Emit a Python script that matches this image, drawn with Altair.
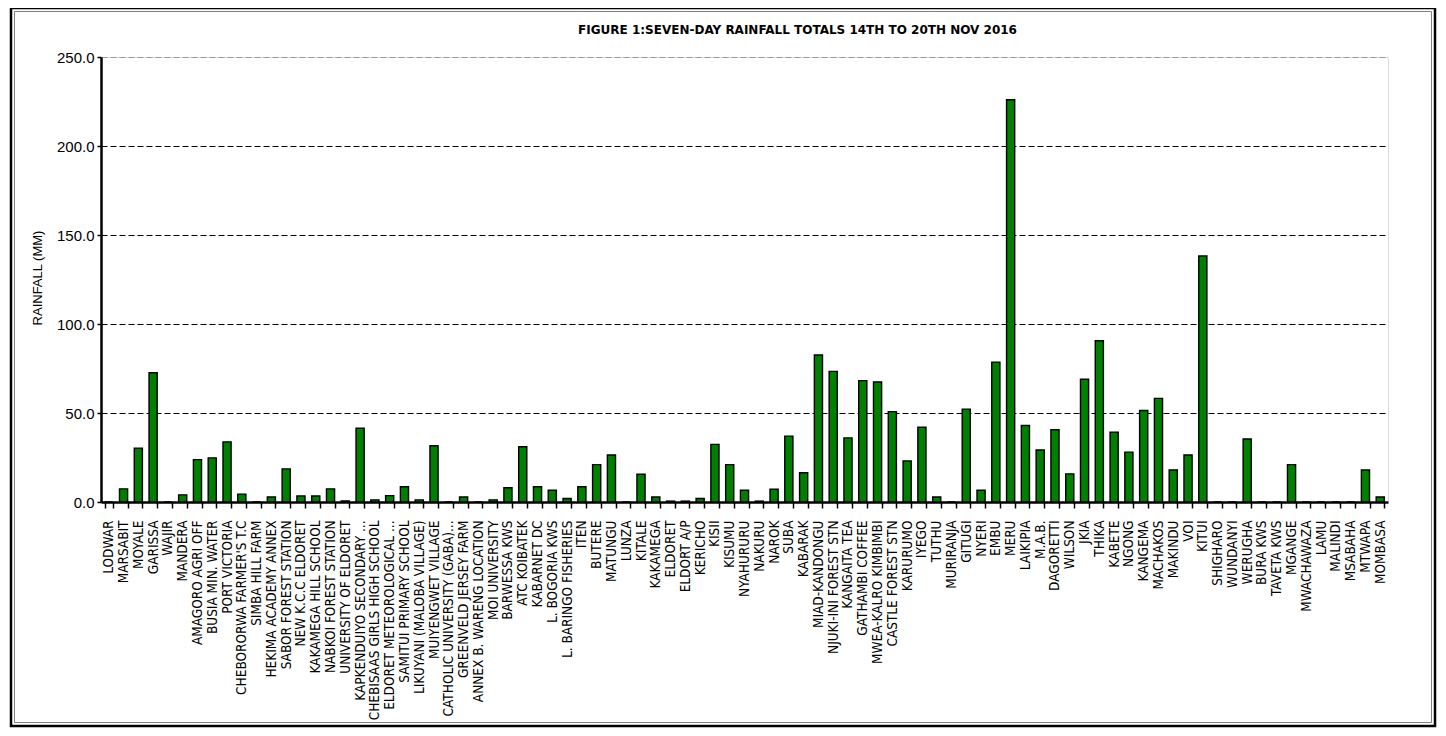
import altair as alt
import pandas as pd

stations = [
    "LODWAR", "MARSABIT", "MOYALE", "GARISSA", "WAJIR", "MANDERA",
    "AMAGORO  AGRI OFF", "BUSIA MIN. WATER", "PORT VICTORIA",
    "CHEBORORWA FARMER'S T.C", "SIMBA HILL FARM", "HEKIMA ACADEMY  ANNEX",
    "SABOR FOREST  STATION", "NEW K.C.C ELDORET", "KAKAMEGA HILL SCHOOL",
    "NABKOI FOREST STATION", "UNIVERSITY OF ELDORET", "KAPKENDUIYO SECONDARY ...",
    "CHEBISAAS GIRLS HIGH SCHOOL", "ELDORET METEOROLOGICAL ...",
    "SAMITUI  PRIMARY SCHOOL", "LIKUYANI (MALOBA VILLAGE)", "MUIYENGWET  VILLAGE",
    "CATHOLIC UNIVERSITY (GABA)...", "GREENVELD JERSEY FARM",
    "ANNEX B. WARENG LOCATION", "MOI UNIVERSITY", "BARWESSA KWS", "ATC KOIBATEK",
    "KABARNET DC", "L. BOGORIA KWS", "L. BARINGO FISHERIES", "ITEN", "BUTERE",
    "MATUNGU", "LUNZA", "KITALE", "KAKAMEGA", "ELDORET", "ELDORT A/P", "KERICHO",
    "KISII", "KISUMU", "NYAHURURU", "NAKURU", "NAROK", "SUBA", "KABARAK",
    "MIAD-KANDONGU", "NJUKI-INI FOREST  STN", "KANGAITA TEA", "GATHAMBI COFFEE",
    "MWEA-KALRO KIMBIMBI", "CASTLE FOREST  STN", "KARURUMO", "IYEGO", "TUTHU",
    "MURIRANJA", "GITUGI", "NYERI", "EMBU", "MERU", "LAIKIPIA", "M.A.B.",
    "DAGORETTI", "WILSON", "JKIA", "THIKA", "KABETE", "NGONG", "KANGEMA",
    "MACHAKOS", "MAKINDU", "VOI", "KITUI", "SHIGHARO", "WUNDANYI", "WERUGHA",
    "BURA KWS", "TAVETA KWS", "MGANGE", "MWACHAWAZA", "LAMU", "MALINDI",
    "MSABAHA", "MTWAPA", "MOMBASA",
]

rainfall = [
    0.0, 7.4, 30.2, 72.6, 0.0, 4.0,
    23.8, 24.8, 33.8,
    4.4, 0.0, 2.8,
    18.6, 3.4, 3.4,
    7.4, 0.6, 41.4,
    1.2, 3.6,
    8.6, 1.2, 31.6,
    0.0, 2.8,
    0.0, 1.2, 8.0, 31.0,
    8.6, 6.6, 2.0, 8.6, 21.0,
    26.4, 0.0, 15.6, 2.8, 0.5, 0.5, 2.0,
    32.4, 21.0, 6.6, 0.5, 7.2, 37.0, 16.4,
    82.6, 73.4, 36.0, 68.2,
    67.4, 50.8, 23.0, 42.0, 2.8,
    0.0, 52.2, 6.6, 78.6, 226.0, 43.0, 29.2,
    40.6, 15.8, 69.0, 90.6, 39.2, 28.0, 51.4,
    58.2, 18.0, 26.4, 138.2, 0.0, 0.0, 35.4,
    0.0, 0.0, 21.0, 0.0, 0.0, 0.0,
    0.0, 18.0, 2.8,
]

y_ticks = [0, 50, 100, 150, 200, 250]
title_text = ["FIGURE 1:SEVEN-DAY RAINFALL TOTALS 14TH TO 20TH NOV 2016"]

df = pd.DataFrame({"station": stations, "rain": rainfall})
title_df = pd.DataFrame({"t": title_text})

W, H = 1287, 445
PAD_L, PAD_T = 93, 49
PAD_R, PAD_B = 50, 226

bars = alt.Chart(df).mark_bar(
    color="#008000", stroke="black", strokeWidth=1.4
).encode(
    x=alt.X(
        "station:N", sort=stations,
        scale=alt.Scale(paddingInner=0.45, paddingOuter=0.25),
        axis=alt.Axis(
            title=None, labelAngle=-90,
            labelFont="DejaVu Sans Condensed, Liberation Sans, Arial",
            labelFontSize=13.5, labelColor="black", labelPadding=12,
            labelLimit=400, tickBand="extent", tickSize=6, tickColor="black",
            tickWidth=1.5, domainColor="black", domainWidth=2.5, grid=False,
        ),
    ),
    y=alt.Y(
        "rain:Q",
        scale=alt.Scale(domain=[0, 250], nice=False),
        axis=alt.Axis(
            title="RAINFALL (MM)", values=y_ticks, format=".1f",
            labelFont="Liberation Sans", labelFontSize=15, labelColor="black",
            labelPadding=3, tickSize=4, tickColor="black", tickWidth=1.5,
            domainColor="black", domainWidth=2.5,
            titleFont="Liberation Sans", titleFontSize=13, titleFontWeight="normal",
            titleColor="black", titleX=-57, titleY=H / 2 - 2,
            grid=True, gridDash=[6, 3], gridWidth=1,
            gridColor=alt.condition("datum.value === 250", alt.value("#9a9a9a"), alt.value("black")),
            gridOpacity=alt.condition("datum.value === 0", alt.value(0), alt.value(1)),
        ),
    ),
)

title = alt.Chart(title_df).mark_text(
    font="DejaVu Sans", fontSize=12, fontWeight="bold", color="black",
    align="center", baseline="alphabetic",
).encode(text="t:N", x=alt.value(696.5), y=alt.value(-23))

frame_outer = alt.Chart(title_df).mark_rect(
    fill=None, stroke="black", strokeWidth=2.5
).encode(
    x=alt.value(-PAD_L + 3), x2=alt.value(W + PAD_R - 3),
    y=alt.value(-PAD_T + 0), y2=alt.value(H + PAD_B - 2),
)
frame_inner = alt.Chart(title_df).mark_rect(
    fill=None, stroke="#808080", strokeWidth=1
).encode(
    x=alt.value(-PAD_L + 6.5), x2=alt.value(W + PAD_R - 6.5),
    y=alt.value(-PAD_T + 3.5), y2=alt.value(H + PAD_B - 5.5),
)

chart = alt.layer(frame_outer, frame_inner, bars, title).properties(
    width=W, height=H,
    autosize=alt.AutoSizeParams(type="none"),
    padding={"left": PAD_L, "top": PAD_T, "right": PAD_R, "bottom": PAD_B},
).configure_view(strokeWidth=0, strokeOpacity=0).configure(background="white")

chart.save("out.html", embed_options={"renderer": "svg", "actions": False})
